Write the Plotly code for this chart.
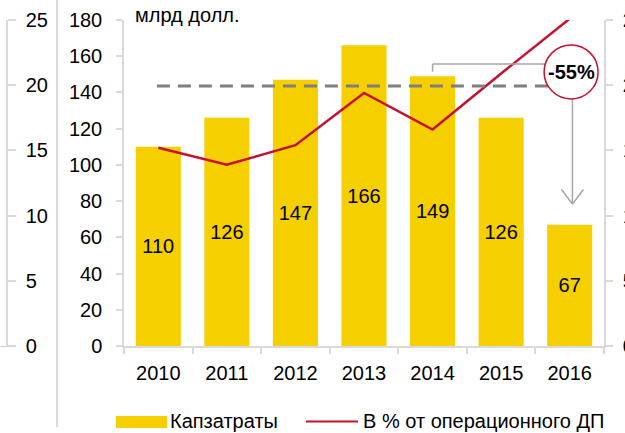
import plotly.graph_objects as go

# ---- data ----
years = ['2010', '2011', '2012', '2013', '2014', '2015', '2016']
capex = [110, 126, 147, 166, 149, 126, 67]            # млрд долл.
share = [15.2, 13.9, 15.4, 19.4, 16.6, 20.9, 25.1]    # % от операционного ДП
avg_level = 143.5                                     # dashed reference level
left_ticks = [0, 5, 10, 15, 20, 25]                   # partial neighbouring chart axis

W, H = 625, 433
def fx(p): return p / W
def fy(p): return 1 - p / H

YEL = '#F5CF00'
RED = '#C8102E'
AX = '#d9d9d9'
FONT = 'Liberation Sans, Arial, sans-serif'

fig = go.Figure()
fig.add_trace(go.Bar(
    x=years, y=capex, marker=dict(color=YEL, line=dict(width=0)),
    text=[str(v) for v in capex], textposition='inside', insidetextanchor='middle',
    textangle=0, constraintext='none',
    textfont=dict(size=20, color='black', family=FONT), name='Капзатраты', showlegend=False))
fig.add_trace(go.Scatter(
    x=years, y=share, mode='lines', line=dict(color=RED, width=2.5),
    yaxis='y2', name='В % от операционного ДП', showlegend=False))
fig.add_trace(go.Scatter(x=[years[0]], y=[None], yaxis='y3', showlegend=False, hoverinfo='skip'))

fig.update_layout(
    width=W, height=H, margin=dict(l=0, r=0, t=0, b=0, autoexpand=False),
    paper_bgcolor='white', plot_bgcolor='rgba(0,0,0,0)',
    font=dict(family=FONT, size=20, color='black'),
    bargap=0.343,
    xaxis=dict(domain=[fx(124), fx(604)], type='category', showline=True, linecolor=AX, linewidth=1.5,
               ticks='outside', tickson='boundaries', ticklen=6, tickcolor=AX, tickwidth=1.5,
               ticklabelstandoff=8, showgrid=False, tickfont=dict(size=20), automargin=False),
    yaxis=dict(domain=[fy(346), fy(20)], range=[0, 180], dtick=20, showline=True, linecolor=AX,
               linewidth=1.5, ticks='outside', ticklen=6, tickcolor=AX, tickwidth=1.5,
               ticklabelstandoff=10, showgrid=False, zeroline=False, tickfont=dict(size=20),
               automargin=False),
    yaxis2=dict(overlaying='y', side='right', anchor='x', range=[0, 25], dtick=5, showline=True,
                linecolor=AX, linewidth=1.5, ticks='outside', ticklen=7, tickcolor=AX, tickwidth=1.5,
                ticklabelstandoff=6, showgrid=False, zeroline=False, tickfont=dict(size=20),
                automargin=False),
    yaxis3=dict(overlaying='y', side='right', anchor='free', position=fx(7), range=[0, 25],
                tickvals=left_ticks, showline=True, linecolor=AX, linewidth=1.5, ticks='outside',
                ticklen=8, tickcolor=AX, tickwidth=1.5, ticklabelstandoff=6, showgrid=False,
                zeroline=False, tickfont=dict(size=20), automargin=False),
)

shapes = []
# separator and partial axis baseline
shapes.append(dict(type='line', xref='paper', yref='paper', x0=fx(57), x1=fx(57), y0=fy(0), y1=fy(427),
                   line=dict(color=AX, width=2)))
shapes.append(dict(type='line', xref='paper', yref='paper', x0=fx(0), x1=fx(15), y0=fy(346.5), y1=fy(346.5),
                   line=dict(color=AX, width=1.5)))
# dashed reference line
shapes.append(dict(type='line', xref='x', yref='y', x0=-0.02, x1=5.7, y0=avg_level, y1=avg_level,
                   line=dict(color='#7f7f7f', width=3, dash='13px,8px')))
# bracket from 2014 bar
top14 = capex[4]
shapes.append(dict(type='line', xref='x', yref='y', x0=4, x1=4, y0=top14 + 2.5, y1=top14 + 6.7,
                   line=dict(color='#a6a6a6', width=1.5)))
shapes.append(dict(type='line', xref='x', yref='y', x0=4, x1=5.7, y0=top14 + 6.7, y1=top14 + 6.7,
                   line=dict(color='#a6a6a6', width=1.5)))
# arrow down to 2016
tip = capex[6] + 11.4
shapes.append(dict(type='line', xref='x', yref='y', x0=6.04, x1=6.04, y0=140, y1=tip,
                   line=dict(color='#a6a6a6', width=1.5)))
shapes.append(dict(type='line', xref='x', yref='y', x0=5.88, x1=6.04, y0=tip + 8, y1=tip,
                   line=dict(color='#a6a6a6', width=1.5)))
shapes.append(dict(type='line', xref='x', yref='y', x0=6.2, x1=6.04, y0=tip + 8, y1=tip,
                   line=dict(color='#a6a6a6', width=1.5)))
# circle
shapes.append(dict(type='circle', xref='x', yref='y', xsizemode='pixel', ysizemode='pixel',
                   xanchor=6.02, yanchor=151.3, x0=-27, x1=27, y0=-27, y1=27,
                   fillcolor='white', line=dict(color=RED, width=1.5)))
# legend
shapes.append(dict(type='rect', xref='paper', yref='paper', x0=fx(116), x1=fx(167), y0=fy(428), y1=fy(416),
                   fillcolor=YEL, line=dict(width=0)))
shapes.append(dict(type='line', xref='paper', yref='paper', x0=fx(306), x1=fx(358), y0=fy(421.5), y1=fy(421.5),
                   line=dict(color=RED, width=2)))
fig.update_layout(shapes=shapes)

pct = round((capex[6] / capex[4] - 1) * 100)
ann = [
    dict(text=f'<b>{pct}%</b>', xref='x', yref='y', x=6.02, y=151.3, showarrow=False,
         font=dict(size=20, color='black'), xanchor='center', yanchor='middle'),
    dict(text='млрд долл.', xref='paper', yref='paper', x=fx(133), y=fy(15), showarrow=False,
         xanchor='left', yanchor='middle', font=dict(size=20)),
    dict(text='Капзатраты', xref='paper', yref='paper', x=fx(168), y=fy(421), showarrow=False,
         xanchor='left', yanchor='middle', font=dict(size=20)),
    dict(text='В % от операционного ДП', xref='paper', yref='paper', x=fx(361), y=fy(421), showarrow=False,
         xanchor='left', yanchor='middle', font=dict(size=20)),
]
fig.update_layout(annotations=ann)

fig.write_html('out.html', config={'displayModeBar': False},
               post_script="document.body.style.margin='0';document.body.style.overflow='hidden';")
